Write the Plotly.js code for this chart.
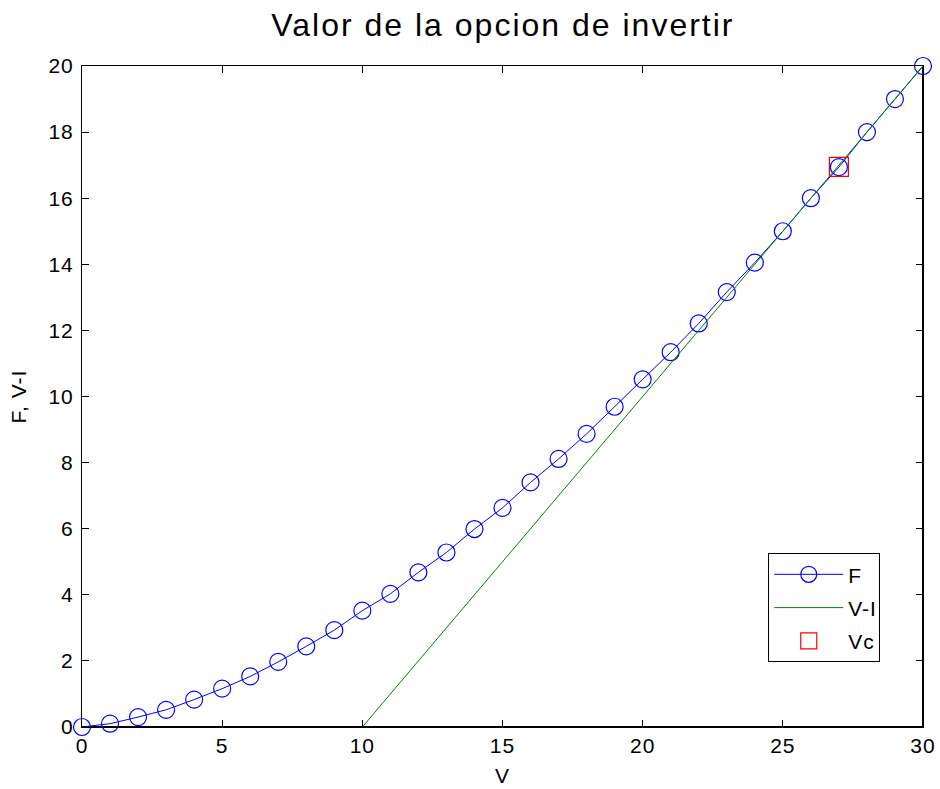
<!DOCTYPE html>
<html>
<head>
<meta charset="utf-8">
<script src="https://cdn.plot.ly/plotly-3.0.1.min.js"></script>
<style>
html,body{margin:0;padding:0;background:#fff;}
#plot{width:940px;height:789px;}
#plot .main-svg text{letter-spacing:1px;}
#plot .main-svg text.gtitle{letter-spacing:2px;}
</style>
</head>
<body>
<div id="plot"></div>
<script>
// Data
const V = [0,1,2,3,4,5,6,7,8,9,10,11,12,13,14,15,16,17,18,19,20,21,22,23,24,25,26,27,28,29,30];
const F = [0.00,0.10,0.30,0.52,0.83,1.16,1.53,1.97,2.44,2.93,3.52,4.03,4.68,5.28,5.99,6.63,7.40,8.11,8.87,9.69,10.52,11.34,12.21,13.16,14.05,15.00,16.00,16.94,18.00,19.00,20.00];
const V_VI = [10,11,12,13,14,15,16,17,18,19,20,21,22,23,24,25,26,27,28,29,30];
const VI   = [0,1,2,3,4,5,6,7,8,9,10,11,12,13,14,15,16,17,18,19,20];
const Vc_x = [27];
const Vc_y = [16.95];
const xTicks = [0,5,10,15,20,25,30];
const yTicks = [0,2,4,6,8,10,12,14,16,18,20];

const font = 'Liberation Sans, Arial, sans-serif';

const traces = [
  {x: V, y: F, name: 'F', legendgroup: 'a', type: 'scatter', mode: 'lines+markers', cliponaxis: false,
   line: {color: '#0000ff', width: 1},
   marker: {symbol: 'circle-open', size: 17, color: '#0000ff', line: {width: 1.2, color: '#0000ff'}}},
  {x: V_VI, y: VI, name: 'V-I', legendgroup: 'b', type: 'scatter', mode: 'lines', cliponaxis: false,
   line: {color: '#008000', width: 1}},
  {x: Vc_x, y: Vc_y, name: 'Vc', legendgroup: 'c', type: 'scatter', mode: 'markers', cliponaxis: false,
   marker: {symbol: 'square-open', size: 19, color: '#ff0000', line: {width: 1.2, color: '#ff0000'}}}
];

const axisCommon = {
  showgrid: false, zeroline: false, showline: true, linecolor: '#000', linewidth: 1,
  mirror: 'ticks', ticks: 'inside', ticklen: 7, tickcolor: '#000', tickwidth: 1,
  tickfont: {family: font, size: 21, color: '#000'}
};

const layout = {
  width: 940, height: 789,
  margin: {l: 82, r: 17, t: 66, b: 62},
  paper_bgcolor: '#fff', plot_bgcolor: '#fff',
  font: {family: font, color: '#000'},
  title: {text: 'Valor de la opcion de invertir', x: 0.535, xanchor: 'center', y: 0.968, yanchor: 'middle',
          font: {family: font, size: 32, color: '#000'}},
  xaxis: Object.assign({}, axisCommon, {range: [0, 30], tickvals: xTicks, ticktext: xTicks.map(String),
          title: {text: 'V', font: {family: font, size: 21}, standoff: 12}}),
  yaxis: Object.assign({}, axisCommon, {range: [0, 20], tickvals: yTicks, ticktext: yTicks.map(String),
          ticklabelstandoff: 3,
          title: {text: 'F, V-I', font: {family: font, size: 21}, standoff: 18}}),
  shapes: [
    {type: 'line', xref: 'paper', yref: 'paper', x0: 0, x1: 1, y0: 0, y1: 0, line: {color: '#000', width: 2}, layer: 'below'},
    {type: 'line', xref: 'paper', yref: 'paper', x0: 1, x1: 1, y0: 0, y1: 1, line: {color: '#000', width: 2}, layer: 'below'}
  ],
  showlegend: true,
  legend: {x: 0.816, y: 0.263, xanchor: 'left', yanchor: 'top', bgcolor: '#fff',
           bordercolor: '#000', borderwidth: 1, font: {family: font, size: 21, color: '#000'},
           tracegroupgap: 3, itemwidth: 69}
};

Plotly.newPlot('plot', traces, layout, {displayModeBar: false, staticPlot: true});
</script>
</body>
</html>
